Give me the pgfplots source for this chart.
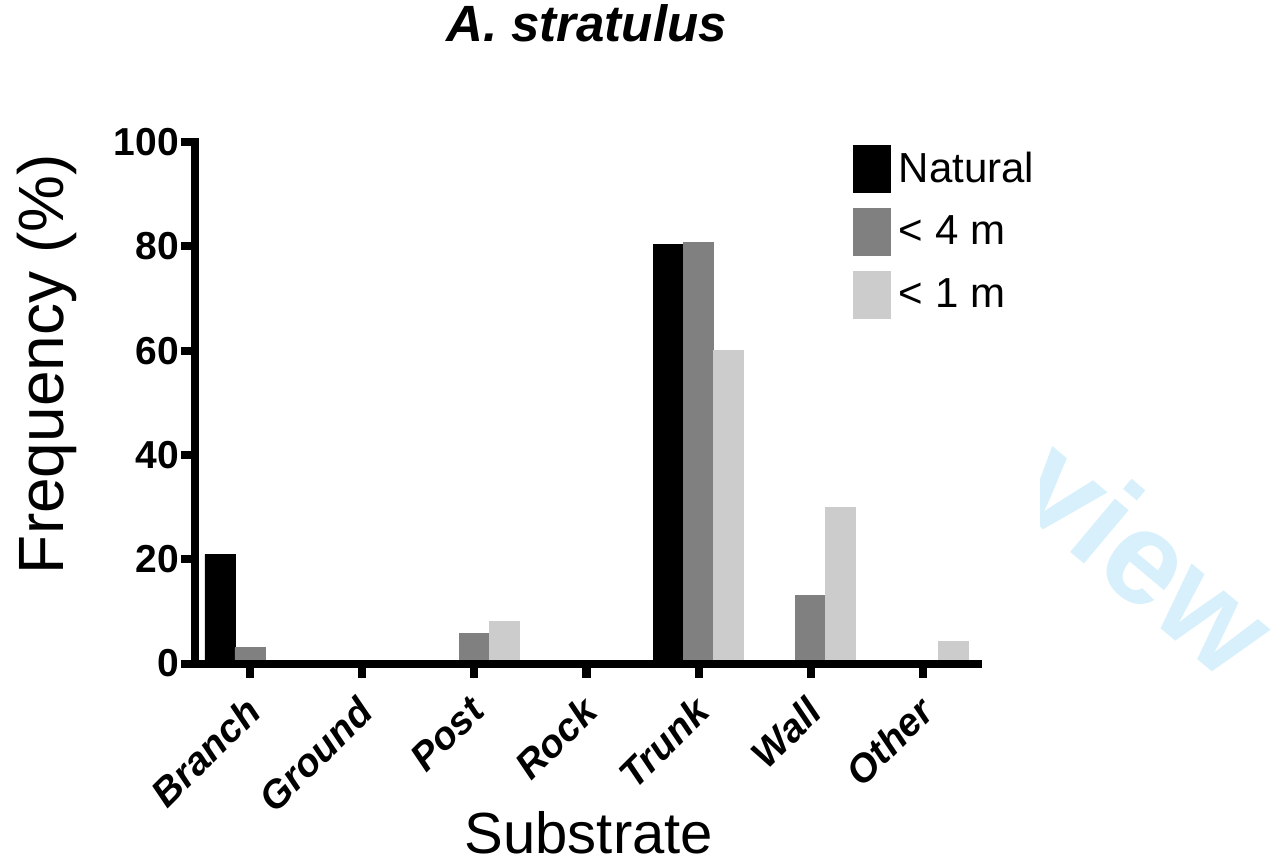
\documentclass[border=0pt]{standalone}
\usepackage{fontspec}
\setmainfont{Liberation Sans}
\usepackage{pgfplots}
\pgfplotsset{compat=1.18}
\definecolor{grey4}{RGB}{128,128,128}
\definecolor{grey1}{RGB}{204,204,204}
\definecolor{wmark}{RGB}{215,240,251}

\begin{document}
\begin{tikzpicture}
\path[use as bounding box] (-97.5pt,-101.25pt) rectangle (541.5pt,331.75pt);
% watermark, cut on the left as in the reference
\begin{scope}
\clip (422.5pt,-101.25pt) rectangle (541.5pt,331.75pt);
\node[text=wmark, font=\fontsize{66}{66}\selectfont\bfseries, rotate=-40] at (476pt,54pt) {view};
\end{scope}
\begin{axis}[
    scale only axis,
    width=391.5pt, height=260.75pt,
    ybar=0pt, bar width=15pt,
    xmin=-0.49, xmax=6.49, ymin=0, ymax=100,
    axis x line=bottom, axis y line=left,
    axis line style={line width=4pt, -, line cap=rect},
    axis on top,
    xtick={0,...,6},
    xticklabels={Branch,Ground,Post,Rock,Trunk,Wall,Other},
    ytick={0,20,...,100},
    tick align=outside, major tick length=7pt,
    tick style={line width=4pt, black},
    x tick label style={font=\fontsize{19.5}{19.5}\selectfont\bfseries\itshape, rotate=45, anchor=north east, xshift=-5pt},
    y tick label style={font=\fontsize{19.5}{19.5}\selectfont\bfseries, xshift=2.5pt},
    /pgf/number format/assume math mode=true,
    title={A. stratulus},
    title style={font=\fontsize{25.5}{25.5}\selectfont\bfseries\itshape, at={(0.5,1.205)}, anchor=center},
    xlabel={Substrate},
    xlabel style={font=\fontsize{29}{29}\selectfont, at={(0.503,-0.325)}, anchor=center},
    ylabel={Frequency (\%)},
    ylabel style={font=\fontsize{32}{32}\selectfont, at={(-0.189,0.574)}, anchor=center},
    legend style={at={(0.840,1.0096)}, anchor=north west, draw=none, fill=none,
        inner sep=0pt, font=\fontsize{21}{21}\selectfont,
        nodes={inner sep=0pt, minimum height=31.5pt, anchor=west}, column sep=4pt},
    legend cell align=left,
    legend image code/.code={\fill[#1] (0pt,-11.75pt) rectangle (18.5pt,11.75pt);},
]
\addplot[fill=black, draw=black] coordinates {(0,20.9) (1,0) (2,0) (3,0) (4,80.4) (5,0) (6,0)};
\addplot[fill=grey4, draw=grey4] coordinates {(0,3.0) (1,0) (2,5.7) (3,0) (4,80.8) (5,13.0) (6,0)};
\addplot[fill=grey1, draw=grey1] coordinates {(0,0) (1,0) (2,8.0) (3,0) (4,60.0) (5,30.0) (6,4.3)};
\legend{Natural, < 4 m, < 1 m}
\end{axis}
\end{tikzpicture}
\end{document}
